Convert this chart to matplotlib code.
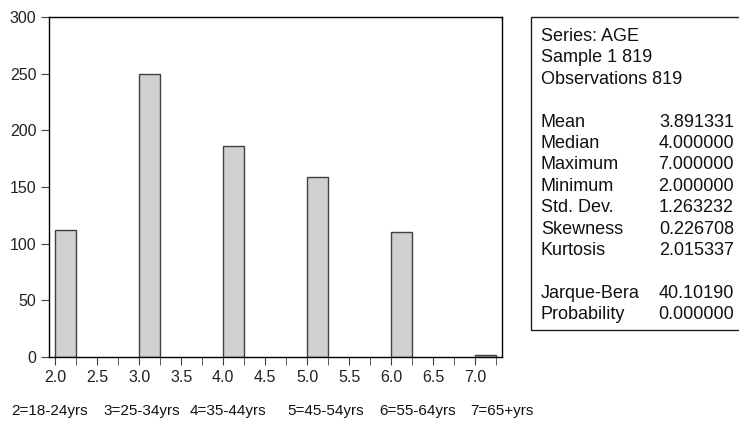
import matplotlib.pyplot as plt
from matplotlib.patches import Rectangle

plt.rcParams['font.family'] = ['Liberation Sans', 'DejaVu Sans']

# histogram of AGE
ages = [2, 3, 4, 5, 6, 7]
counts = [112, 250, 186, 159, 110, 2]

header = ['Series: AGE', 'Sample 1 819', 'Observations 819']
stat_names = ['Mean', 'Median', 'Maximum', 'Minimum', 'Std. Dev.', 'Skewness', 'Kurtosis']
stat_values = ['3.891331', '4.000000', '7.000000', '2.000000', '1.263232', '0.226708', '2.015337']
test_names = ['Jarque-Bera', 'Probability']
test_values = ['40.10190', '0.000000']

codes = ['2=18-24yrs', '3=25-34yrs', '4=35-44yrs', '5=45-54yrs', '6=55-64yrs', '7=65+yrs']

W, H = 739, 423
fig = plt.figure(figsize=(W / 100, H / 100), dpi=100)
ax = fig.add_axes([49 / W, 1 - 357 / H, (502 - 49) / W, (357 - 17) / H])

ax.bar(ages, counts, width=0.25, align='edge', color='#d0d0d0',
       edgecolor='#404040', linewidth=1)
ax.set_xlim(1.925, 7.32)
ax.set_ylim(0, 300)
ax.set_xticks([2.0, 2.5, 3.0, 3.5, 4.0, 4.5, 5.0, 5.5, 6.0, 6.5, 7.0])
ax.set_xticklabels(['2.0', '2.5', '3.0', '3.5', '4.0', '4.5', '5.0', '5.5', '6.0', '6.5', '7.0'])
ax.set_xticks([2.25 + 0.5 * i for i in range(11)], minor=True)
ax.set_yticks([0, 50, 100, 150, 200, 250, 300])
ax.tick_params(axis='both', which='both', direction='out', length=6, pad=3,
               color='#404040', labelsize=11.5, labelcolor='#222222')
for s in ax.spines.values():
    s.set_linewidth(1)

# stats box
box_l, box_t, box_b = 531, 17, 330
fig.patches.append(Rectangle((box_l / W, 1 - box_b / H), (W + 5 - box_l) / W,
                             (box_b - box_t) / H, transform=fig.transFigure,
                             fill=False, edgecolor='#202020', linewidth=1))

lx, rx = 541 / W, 734 / W
fs = 13
y = 36.5
step = 21.4
for t in header:
    fig.text(lx, 1 - y / H, t, fontsize=fs, va='center', color='#111111')
    y += step
y += step
for n, v in zip(stat_names, stat_values):
    fig.text(lx, 1 - y / H, n, fontsize=fs, va='center', color='#111111')
    fig.text(rx, 1 - y / H, v, fontsize=fs, va='center', ha='right', color='#111111')
    y += step
y += step
for n, v in zip(test_names, test_values):
    fig.text(lx, 1 - y / H, n, fontsize=fs, va='center', color='#111111')
    fig.text(rx, 1 - y / H, v, fontsize=fs, va='center', ha='right', color='#111111')
    y += step

code_x = [11, 103, 190, 287, 379, 470]
for cx, c in zip(code_x, codes):
    fig.text(cx / W, 1 - 411 / H, c, fontsize=11, va='center', color='#111111')

fig.savefig('out.png', dpi=100)
